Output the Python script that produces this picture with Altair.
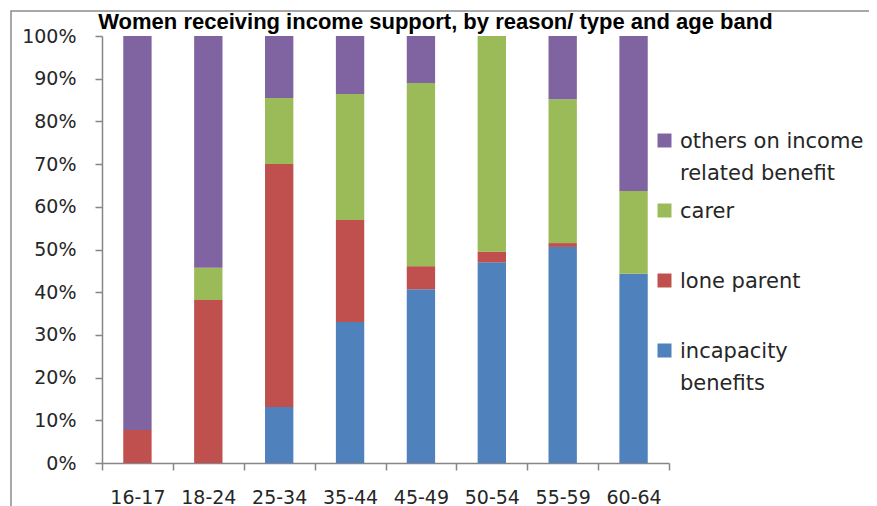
import altair as alt
import pandas as pd

ages = ["16-17", "18-24", "25-34", "35-44", "45-49", "50-54", "55-59", "60-64"]
# "|" marks a line break in the legend label
reasons = ["incapacity|benefits", "lone parent|", "carer|", "others on income|related benefit"]
colours = ["#4F81BD", "#C0504D", "#9BBB59", "#8064A2"]

# share of women in each age band (%)
incapacity = [0, 0, 13.1, 33.0, 40.7, 47.0, 50.6, 44.3]
lone_parent = [7.7, 38.2, 56.9, 23.9, 5.4, 2.5, 0.9, 0]
carer = [0, 7.5, 15.5, 29.5, 42.9, 50.5, 33.7, 19.4]
others = [92.3, 54.3, 14.5, 13.6, 11.0, 0, 14.8, 36.3]

series = [incapacity, lone_parent, carer, others]
rows = []
for i, age in enumerate(ages):
    for k, reason in enumerate(reasons):
        rows.append({"age": age, "reason": reason, "rank": k, "share": series[k][i]})
df = pd.DataFrame(rows)

bars = alt.Chart(df).mark_bar(width=alt.RelativeBandSize(0.4)).encode(
    x=alt.X("age:N", sort=ages, title=None,
            scale=alt.Scale(paddingInner=0, paddingOuter=0),
            axis=alt.Axis(labelAngle=0, tickBand="extent", labelPadding=18)),
    y=alt.Y("share:Q", stack="normalize", title=None,
            scale=alt.Scale(domain=[0, 1]),
            axis=alt.Axis(format=".0%", tickCount=10, labelPadding=19)),
    color=alt.Color("reason:N",
                    scale=alt.Scale(domain=reasons[::-1], range=colours[::-1]),
                    legend=alt.Legend(title=None, orient="none", legendX=552, legendY=101,
                                      padding=0, symbolType="M-1,-2H1V0H-1Z",
                                      symbolSize=196, symbolStrokeWidth=0,
                                      symbolOpacity=1, labelOffset=5,
                                      labelExpr="split(datum.label, '|')",
                                      labelBaseline="alphabetic", labelFont="DejaVu Sans",
                                      labelFontSize=21, labelColor="#262626",
                                      labelLimit=300, rowPadding=16)),
    order=alt.Order("rank:Q"),
)

frame = alt.Chart(alt.Data(values=[{}])).mark_rect(
    fill="transparent", stroke="#8c8c8c", strokeWidth=1.5
).encode(x=alt.value(-91), x2=alt.value(800), y=alt.value(-25), y2=alt.value(500))

chart = alt.layer(frame, bars).properties(
    width=567,
    height=427,
    autosize=alt.AutoSizeParams(type="none"),
    padding={"left": 94, "top": 28, "right": 200, "bottom": 43},
    title=alt.Title("Women receiving income support, by reason/ type and age band",
                    font="Liberation Sans", fontSize=22, fontWeight="bold",
                    color="#000000", anchor="start", dx=88, dy=28),
).configure(
    style={"guide-label": {"lineHeight": 32}}
).configure_axis(
    grid=False, domainColor="#868686", tickColor="#868686", domainWidth=1.5,
    tickWidth=1.5, tickSize=7, labelFont="DejaVu Sans", labelFontSize=19,
    labelColor="#262626"
).configure_view(strokeWidth=0)

chart.save("out.html", embed_options={"renderer": "svg", "actions": False})
